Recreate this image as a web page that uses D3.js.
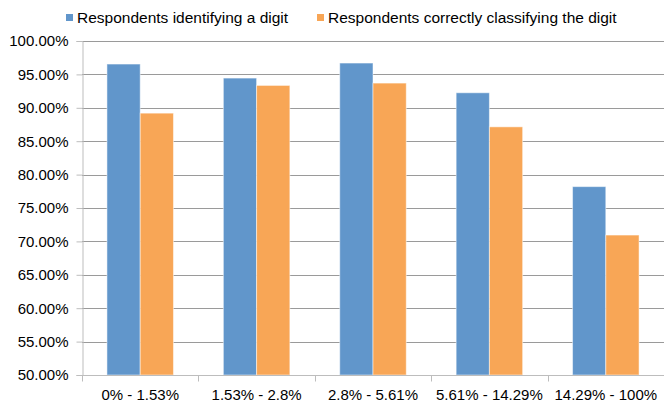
<!DOCTYPE html>
<html>
<head>
<meta charset="utf-8">
<script src="https://cdn.jsdelivr.net/npm/d3@7"></script>
<style>
  body { margin: 0; background: #fff; }
  svg text { font-family: "Liberation Sans", Arial, sans-serif; fill: #000; }
</style>
</head>
<body>
<div id="wrapper"></div>
<script>
const categories = ["0% - 1.53%", "1.53% - 2.8%", "2.8% - 5.61%", "5.61% - 14.29%", "14.29% - 100%"]
const seriesNames = ["Respondents identifying a digit", "Respondents correctly classifying the digit"]
const identifying = [96.55, 94.45, 96.7, 92.25, 78.2]
const classifying = [89.2, 93.35, 93.7, 87.15, 70.95]
const yTicks = [50, 55, 60, 65, 70, 75, 80, 85, 90, 95, 100]
const colors = ["#6196CB", "#F8A656"]

function drawBars() {
  const dimensions = {
    width: 664,
    height: 405,
    margin: { top: 41, right: 0, bottom: 30, left: 82 },
  }
  dimensions.boundedWidth = dimensions.width - dimensions.margin.left - dimensions.margin.right
  dimensions.boundedHeight = dimensions.height - dimensions.margin.top - dimensions.margin.bottom

  const svg = d3.select("#wrapper").append("svg")
      .attr("width", dimensions.width)
      .attr("height", dimensions.height)

  const bounds = svg.append("g")
      .attr("transform", `translate(${dimensions.margin.left},${dimensions.margin.top})`)

  const xScale = d3.scaleBand()
    .domain(categories)
    .range([0, dimensions.boundedWidth])

  const innerScale = d3.scaleBand()
    .domain([0, 1])
    .range([0, xScale.bandwidth()])
    .paddingOuter(0.75)
    .paddingInner(0)

  const yScale = d3.scaleLinear()
    .domain([50, 100])
    .range([dimensions.boundedHeight, 0])

  // gridlines
  bounds.append("g")
    .selectAll("line")
    .data(yTicks.slice(1))
    .join("line")
      .attr("x1", 0)
      .attr("x2", dimensions.boundedWidth)
      .attr("y1", d => Math.round(yScale(d)) + 0.5)
      .attr("y2", d => Math.round(yScale(d)) + 0.5)
      .attr("stroke", "#9a9a9a")
      .attr("stroke-width", 1)

  // bars
  const rows = categories.map((c, i) => ({ category: c, values: [identifying[i], classifying[i]] }))
  bounds.append("g")
    .selectAll("g")
    .data(rows)
    .join("g")
      .attr("transform", d => `translate(${xScale(d.category)},0)`)
    .selectAll("rect")
    .data(d => d.values.map((v, k) => ({ k, v })))
    .join("rect")
      .attr("x", d => innerScale(d.k))
      .attr("width", innerScale.bandwidth())
      .attr("y", d => yScale(d.v))
      .attr("height", d => dimensions.boundedHeight - yScale(d.v))
      .attr("fill", d => colors[d.k])
      .attr("stroke", "rgba(255,255,255,0.5)")
      .attr("stroke-width", 1)

  // y axis
  const yAxis = d3.axisLeft(yScale)
    .tickValues(yTicks)
    .tickSize(6)
    .tickPadding(8)
    .tickFormat(d => d.toFixed(2) + "%")
  const yAxisG = bounds.append("g")
    .attr("transform", "translate(0.5,0)")
    .call(yAxis)
  yAxisG.select(".domain").attr("stroke", "#bdbdbd")
  yAxisG.selectAll(".tick line").attr("stroke", "#bdbdbd")
  yAxisG.selectAll("text").attr("font-size", 15).attr("fill", "#000")

  // x axis
  const xAxisG = bounds.append("g")
    .attr("transform", `translate(0,${dimensions.boundedHeight + 0.5})`)
  xAxisG.append("line")
    .attr("x1", 0).attr("x2", dimensions.boundedWidth)
    .attr("stroke", "#bdbdbd")
  xAxisG.selectAll(".cat-tick")
    .data(d3.range(categories.length + 1))
    .join("line")
      .attr("class", "cat-tick")
      .attr("x1", i => Math.round(i * xScale.step()) + 0.5)
      .attr("x2", i => Math.round(i * xScale.step()) + 0.5)
      .attr("y1", 0)
      .attr("y2", 6)
      .attr("stroke", "#bdbdbd")
  xAxisG.selectAll("text")
    .data(categories)
    .join("text")
      .attr("x", d => xScale(d) + xScale.bandwidth() / 2)
      .attr("y", 24)
      .attr("text-anchor", "middle")
      .attr("font-size", 15)
      .text(d => d)

  // legend
  const legend = svg.append("g")
  const legendX = [66, 317]
  seriesNames.forEach((name, i) => {
    const item = legend.append("g").attr("transform", `translate(${legendX[i]},14)`)
    item.append("rect")
      .attr("width", 7).attr("height", 7)
      .attr("fill", colors[i])
    item.append("text")
      .attr("x", 11)
      .attr("y", 9)
      .attr("font-size", 15.5)
      .text(name)
  })
}
drawBars()
</script>
</body>
</html>
